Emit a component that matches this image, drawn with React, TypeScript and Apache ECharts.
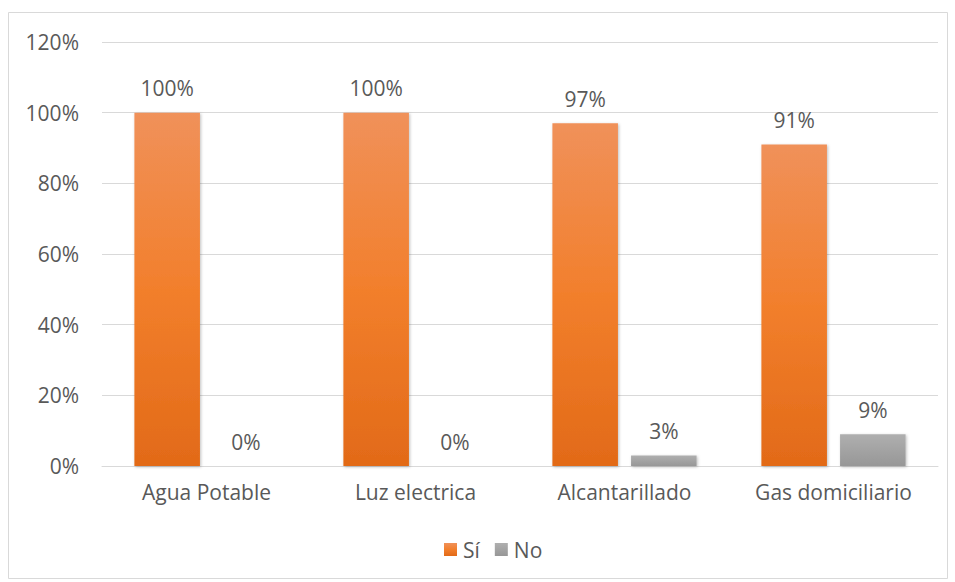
import React, { useEffect, useRef } from "react";
import * as echarts from "echarts";

const categories = ["Agua Potable", "Luz electrica", "Alcantarillado", "Gas domiciliario"];
const siValues = [100, 100, 97, 91];
const noValues = [0, 0, 3, 9];
const seriesNames = ["Sí", "No"];

const FONT = "'Open Sans', sans-serif";
const TEXT_COLOR = "#595959";
const FONT_SIZE = 21;

export default function App() {
  const ref = useRef<HTMLDivElement>(null);

  useEffect(() => {
    if (!ref.current) return;
    const chart = echarts.init(ref.current, undefined, { renderer: "svg" });
    const label = {
      show: true,
      position: "top" as const,
      distance: 14,
      formatter: (p: any) => `${p.value}%`,
      color: TEXT_COLOR,
      fontSize: FONT_SIZE,
      fontFamily: FONT,
    };
    const shadow = {
      shadowBlur: 3,
      shadowColor: "rgba(0,0,0,0.25)",
      shadowOffsetX: 1,
      shadowOffsetY: 1,
    };
    chart.setOption({
      animation: false,
      backgroundColor: "#ffffff",
      textStyle: { fontFamily: FONT },
      graphic: [
        {
          type: "rect",
          shape: { x: 8.5, y: 12.5, width: 939, height: 566 },
          style: { fill: "none", stroke: "#d9d9d9", lineWidth: 1 },
          silent: true,
        },
      ],
      grid: { left: 102, right: 17, top: 42, bottom: 116 },
      legend: {
        bottom: 17,
        left: 439,
        itemWidth: 13,
        itemHeight: 13,
        itemGap: 15,
        icon: "rect",
        textStyle: { color: TEXT_COLOR, fontSize: FONT_SIZE, fontFamily: FONT, padding: [0, 0, 0, 1] },
        data: seriesNames,
      },
      xAxis: {
        type: "category",
        data: categories,
        axisLine: { lineStyle: { color: "#d9d9d9", width: 1 } },
        axisTick: { show: false },
        axisLabel: { color: TEXT_COLOR, fontSize: FONT_SIZE, fontFamily: FONT, margin: 15 },
      },
      yAxis: {
        type: "value",
        min: 0,
        max: 120,
        interval: 20,
        axisLabel: {
          color: TEXT_COLOR,
          fontSize: FONT_SIZE,
          fontFamily: FONT,
          margin: 23,
          formatter: (v: number) => `${v}%`,
        },
        axisLine: { show: false },
        axisTick: { show: false },
        splitLine: { lineStyle: { color: "#d9d9d9", width: 1 } },
      },
      series: [
        {
          name: seriesNames[0],
          type: "bar",
          data: siValues,
          barGap: "20%",
          barCategoryGap: "31%",
          itemStyle: {
            color: new echarts.graphic.LinearGradient(0, 0, 0, 1, [
              { offset: 0, color: "#f0915a" },
              { offset: 0.5, color: "#f27f2c" },
              { offset: 1, color: "#e26a18" },
            ]),
            ...shadow,
          },
          label,
        },
        {
          name: seriesNames[1],
          type: "bar",
          data: noValues,
          itemStyle: {
            color: new echarts.graphic.LinearGradient(0, 0, 0, 1, [
              { offset: 0, color: "#afafaf" },
              { offset: 1, color: "#979797" },
            ]),
            ...shadow,
          },
          label,
        },
      ],
    });
    return () => chart.dispose();
  }, []);

  return (
    <div
      ref={ref}
      style={{ position: "absolute", left: 0, top: 0, width: 955, height: 582 }}
    />
  );
}
